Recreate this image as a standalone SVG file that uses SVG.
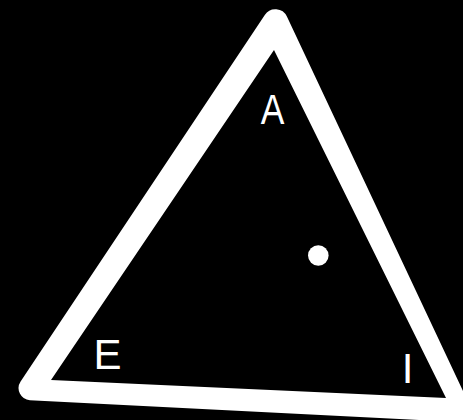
<svg xmlns="http://www.w3.org/2000/svg" width="463" height="420" viewBox="0 0 463 420">
  <style>
    .lbl { font-family: "Liberation Sans", Arial, sans-serif; font-size: 42px; fill: #ffffff; }
  </style>
  <rect x="0" y="0" width="463" height="420" fill="#000000"/>
  <g id="triangle">
    <path fill="#ffffff" fill-rule="evenodd" d="M 264.8 14.95 A 12.7 12.7 0 0 1 286.9 16.6 L 478 423 L 29.9 400.2 A 12 12 0 0 1 20.6 381.6 Z M 274 50 L 446 398 L 51 380 Z"/>
  </g>
  <g id="dot">
    <circle cx="318.3" cy="255.5" r="10.3" fill="#ffffff"/>
  </g>
  <g id="labels">
    <text id="label-A" class="lbl" x="272.5" y="124.3" text-anchor="middle" textLength="23.6" lengthAdjust="spacingAndGlyphs">A</text>
    <text id="label-E" class="lbl" x="93.4" y="369.3">E</text>
    <text id="label-I" class="lbl" x="407.7" y="382.7" text-anchor="middle">I</text>
  </g>
</svg>
